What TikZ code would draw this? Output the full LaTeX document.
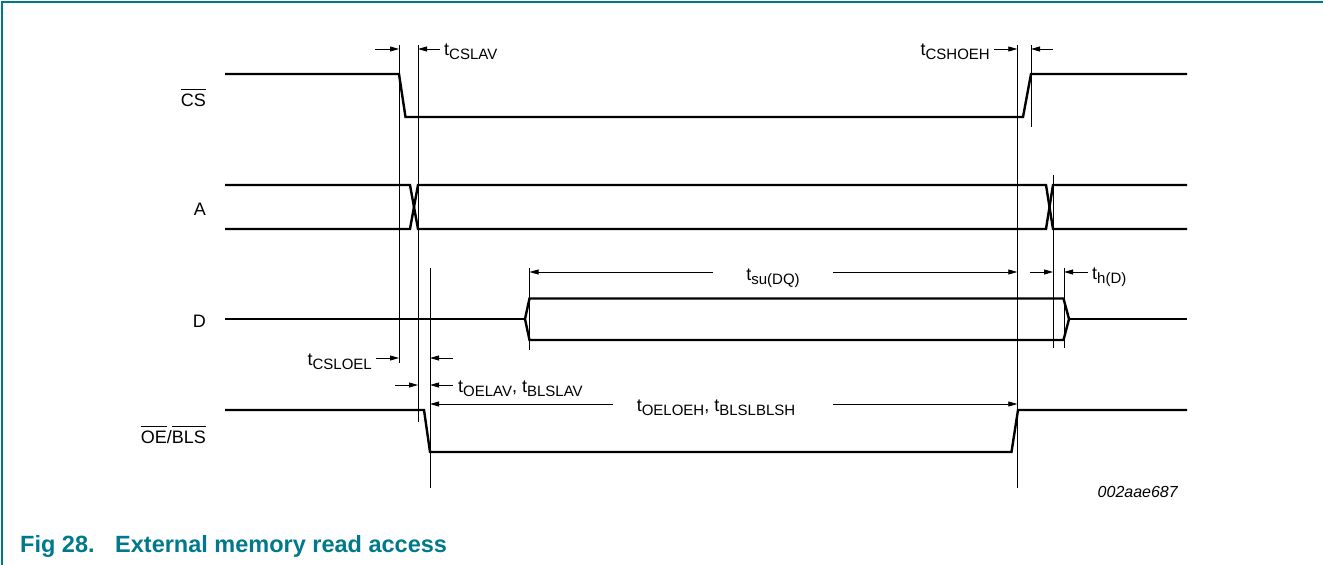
\documentclass[tikz,border=0pt]{standalone}
\usepackage{fontspec}
\setmainfont{Liberation Sans}
\usetikzlibrary{arrows.meta,positioning,calc}
\definecolor{nxpteal}{HTML}{00798C}
\newcommand{\tsub}[1]{t\raisebox{-4pt}{\fontsize{15pt}{15pt}\selectfont #1}}
\newcommand{\ovl}[1]{\ensuremath{\overline{\mbox{\rule{0pt}{15.5pt}#1}}}}

\begin{document}
\begin{tikzpicture}[x=1pt,y=-1pt,
    wave/.style={line width=2.4pt,line join=miter},
    guide/.style={line width=0.8pt},
    dim/.style={line width=0.8pt,-{Triangle[length=9pt,width=5pt]}},
    lbl/.style={font=\fontsize{18pt}{18pt}\selectfont,inner sep=0pt}]
    \useasboundingbox (0,0) rectangle (1323,565);
    % Frame
    \draw[nxpteal,line width=2pt] (2,565) -- (2,2) -- (1323,2);

    % Signal names
    \node[lbl,anchor=base east] (lcs) at (206,106) {\ovl{CS}};
    \node[lbl,anchor=base east] (la) at (206,215) {A};
    \node[lbl,anchor=base east] (ld) at (206,327) {D};
    \node[lbl,anchor=base east] (loe) at (206,443) {\ovl{OE}/\ovl{BLS}};

    % Waveforms
    \draw[wave] (225,74) -- (399,74) -- (405.5,117) -- (1023,117) -- (1031,74) -- (1187,74);
    \draw[wave] (225,185) -- (410,185) -- (418,229) -- (1046,229) -- (1053,185) -- (1187,185);
    \draw[wave] (225,229) -- (410,229) -- (418,185) -- (1046,185) -- (1053,229) -- (1187,229);
    \draw[wave] (225,319) -- (525,319);
    \draw[wave] (525,319) -- (529.5,298.5) -- (1063.5,298.5) -- (1069,319) -- (1063.5,340) -- (529.5,340) -- cycle;
    \draw[wave] (1069,319) -- (1187,319);
    \draw[wave] (225,410) -- (424,410) -- (430,452) -- (1011.5,452) -- (1018,410) -- (1187,410);

    % Reference lines
    \coordinate (g1t) at (399,45);    \coordinate (g1b) at (399,363);
    \coordinate (g2t) at (418,45);    \coordinate (g2b) at (418,422);
    \coordinate (g3t) at (430,268);   \coordinate (g3b) at (430,488);
    \coordinate (g4t) at (529.5,268); \coordinate (g4b) at (529.5,350);
    \coordinate (g5t) at (1017.3,45); \coordinate (g5b) at (1017.3,488);
    \coordinate (g6t) at (1031,45);   \coordinate (g6b) at (1031,127);
    \coordinate (g7t) at (1053,175);  \coordinate (g7b) at (1053,348);
    \coordinate (g8t) at (1064,268);  \coordinate (g8b) at (1064,348);
    \foreach \g in {g1,g2,g3,g4,g5,g6,g7,g8}
        \draw[guide] (\g t) -- (\g b);

    % Timing arrows
    \draw[dim] (375,49) -- (g1t |- 0,49);
    \draw[dim] (440,49) -- (g2t |- 0,49);
    \node[lbl,anchor=base west] (tcslav) at (444,55) {\tsub{CSLAV}};
    \node[lbl,anchor=base east] (tcshoeh) at (990,55) {\tsub{CSHOEH}};
    \draw[dim] (994,49) -- (g5t |- 0,49);
    \draw[dim] (1053,49) -- (g6t |- 0,49);

    \node[lbl,anchor=base] (tsu) at (773,280) {\tsub{su(DQ)}};
    \draw[dim] (713,272) -- (g4t |- 0,272);
    \draw[dim] (833,272) -- (g5t |- 0,272);
    \draw[dim] (1030,272) -- (g7t |- 0,272);
    \draw[dim] (1088,272) -- (g8t |- 0,272);
    \node[lbl,anchor=base west] (th) at (1092,279) {\tsub{h(D)}};

    \node[lbl,anchor=base east] (tcsloel) at (372,365) {\tsub{CSLOEL}};
    \draw[dim] (376,358) -- (g1t |- 0,358);
    \draw[dim] (453,358) -- (g3t |- 0,358);

    \draw[dim] (395,385) -- (g2t |- 0,385);
    \draw[dim] (453,385) -- (g3t |- 0,385);
    \node[lbl,anchor=base west] (toelav) at (458,392) {\tsub{OELAV}, \tsub{BLSLAV}};

    \draw[dim] (613,404) -- (g3t |- 0,404);
    \node[lbl,anchor=base] (toeloeh) at (716,411) {\tsub{OELOEH}, \tsub{BLSLBLSH}};
    \draw[dim] (833,404) -- (g5t |- 0,404);

    % Caption
    \node[anchor=base east,inner sep=0pt,font=\itshape\fontsize{16pt}{16pt}\selectfont] (code) at (1178,497) {002aae687};
    \node[anchor=base west,inner sep=0pt,text=nxpteal,font=\bfseries\fontsize{23.5pt}{23.5pt}\selectfont] (fig) at (20,552) {Fig 28.};
    \node[anchor=base west,inner sep=0pt,text=nxpteal,font=\bfseries\fontsize{23.5pt}{23.5pt}\selectfont] (title) at (115,552) {External memory read access};
\end{tikzpicture}
\end{document}
